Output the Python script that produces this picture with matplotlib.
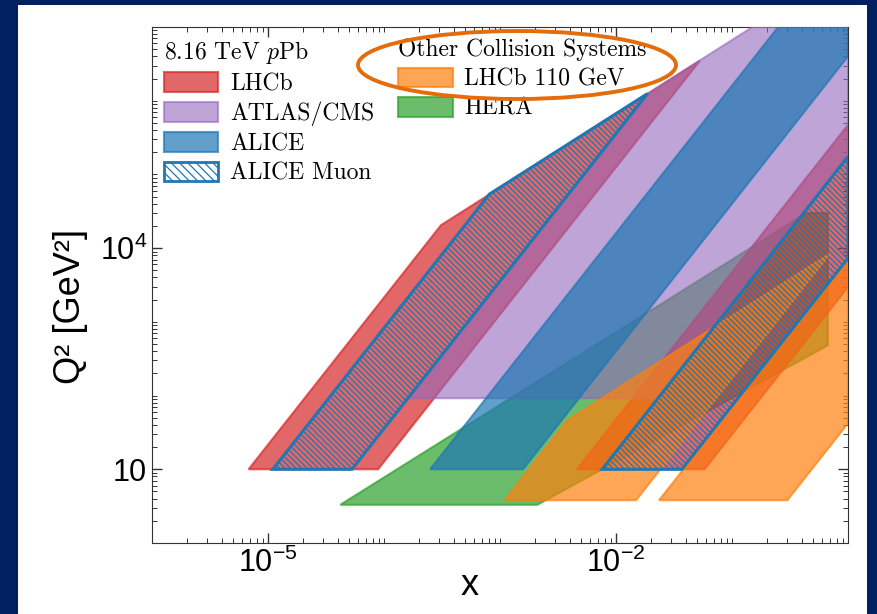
import matplotlib
matplotlib.use('Agg')
import matplotlib.pyplot as plt
from matplotlib.patches import Patch, Rectangle, Ellipse
from matplotlib.font_manager import FontProperties
from matplotlib.ticker import LogLocator, NullFormatter, FixedLocator, FixedFormatter

# kinematic regions, polygon corners as (x, Q^2)
lhcb_fwd_x = [6.8e-6, 8.9e-5, 5.3e-2, 3.1e-4]
lhcb_fwd_q2 = [10, 10, 3.5e6, 2.05e4]
lhcb_bwd_x = [4.6e-3, 5.8e-2, 1.0, 1.0]
lhcb_bwd_q2 = [10, 10, 2.97e3, 4.7e5]
atlas_x = [1.6e-4, 2.3e-2, 1.0, 1.0, 0.15, 1.8e-2]
atlas_q2 = [92, 92, 1.75e5, 1e7, 1e7, 1.2e6]
alice_x = [2.5e-4, 1.58e-3, 1.0, 1.0, 0.25]
alice_q2 = [10, 10, 4.0e6, 1e7, 1e7]
muon_fwd_x = [1.1e-5, 5.3e-5, 1.87e-2, 8.1e-4]
muon_fwd_q2 = [10, 10, 1.25e6, 5.4e4]
muon_bwd_x = [7.6e-3, 3.7e-2, 1.0, 1.0]
muon_bwd_q2 = [10, 10, 7.3e3, 1.75e5]
hera_x = [4.2e-5, 2.1e-3, 0.67, 0.67, 0.44]
hera_q2 = [3.3, 3.3, 480, 3.0e4, 3.0e4]
fixed1_x = [1.1e-3, 1.49e-2, 0.67, 0.67, 3.8e-3]
fixed1_q2 = [3.8, 3.8, 7.7e3, 8.1e3, 46]
fixed2_x = [2.35e-2, 0.30, 1.0, 1.0]
fixed2_q2 = [3.8, 3.8, 42, 6.9e3]

labels_ppb = ['LHCb', 'ATLAS/CMS', 'ALICE', 'ALICE Muon']
labels_other = ['LHCb 110 GeV', 'HERA']
xtick_vals = [1e-5, 1e-2]
xtick_labels = [r'$\mathregular{10^{-5}}$', r'$\mathregular{10^{-2}}$']
ytick_vals = [10, 1e4]
ytick_labels = ['10', r'$\mathregular{10^{4}}$']

plt.rcParams['font.family'] = ['Liberation Sans', 'DejaVu Sans']
plt.rcParams['mathtext.fontset'] = 'cm'
plt.rcParams['hatch.linewidth'] = 0.9

fig = plt.figure(figsize=(8.77, 6.14), dpi=100)
fig.patch.set_facecolor('#002060')
fig.add_artist(Rectangle((18 / 877, 0), 849 / 877, 609 / 614, transform=fig.transFigure,
                         facecolor='white', edgecolor='none', zorder=-10))

ax = fig.add_axes([152 / 877, 71 / 614, 696 / 877, 516 / 614])
ax.set_xscale('log')
ax.set_yscale('log')

ax.fill(hera_x, hera_q2, color='tab:green', alpha=0.7, lw=1.5, zorder=1)
ax.fill(lhcb_fwd_x, lhcb_fwd_q2, color='tab:red', alpha=0.7, lw=1.5, zorder=2)
ax.fill(lhcb_bwd_x, lhcb_bwd_q2, color='tab:red', alpha=0.7, lw=1.5, zorder=2)
ax.fill(atlas_x, atlas_q2, color='tab:purple', alpha=0.6, lw=1.5, zorder=3)
ax.fill(alice_x, alice_q2, color='tab:blue', alpha=0.7, lw=1.5, zorder=4)
ax.fill(fixed1_x, fixed1_q2, color='tab:orange', alpha=0.7, lw=1.5, zorder=5)
ax.fill(fixed2_x, fixed2_q2, color='tab:orange', alpha=0.7, lw=1.5, zorder=5)
for mx, mq in [(muon_fwd_x, muon_fwd_q2), (muon_bwd_x, muon_bwd_q2)]:
    ax.fill(mx, mq, facecolor='none', edgecolor='tab:blue', hatch=r'\\\\\\', lw=2.2, zorder=6)

ax.set_xlim(1e-6, 1)
ax.set_ylim(1, 1e7)

ax.xaxis.set_major_locator(FixedLocator(xtick_vals))
ax.xaxis.set_major_formatter(FixedFormatter(xtick_labels))
ax.yaxis.set_major_locator(FixedLocator(ytick_vals))
ax.yaxis.set_major_formatter(FixedFormatter(ytick_labels))
for axis in (ax.xaxis, ax.yaxis):
    axis.set_minor_locator(LogLocator(base=10, subs='all', numticks=100))
    axis.set_minor_formatter(NullFormatter())

ax.tick_params(which='both', direction='in', top=True, right=True, labelsize=22, color='#333333')
ax.tick_params(which='major', length=7, width=1)
ax.tick_params(which='minor', length=3.5, width=0.7)
for sp in ax.spines.values():
    sp.set_color('#333333')

ax.set_xlabel('x', fontsize=26)
ax.xaxis.set_label_coords(0.457, -0.048)
ax.set_ylabel('Q² [GeV²]', fontsize=26)
ax.yaxis.set_label_coords(-0.092, 0.459)

leg_font = FontProperties(family='cmr10', size=17)
h_ppb = [Patch(facecolor='tab:red', edgecolor='tab:red', alpha=0.7, lw=1.5),
         Patch(facecolor='tab:purple', edgecolor='tab:purple', alpha=0.6, lw=1.5),
         Patch(facecolor='tab:blue', edgecolor='tab:blue', alpha=0.7, lw=1.5),
         Patch(facecolor='none', edgecolor='tab:blue', hatch=r'\\\\', lw=2)]
h_other = [Patch(facecolor='tab:orange', edgecolor='tab:orange', alpha=0.7, lw=1.5),
           Patch(facecolor='tab:green', edgecolor='tab:green', alpha=0.7, lw=1.5)]

leg_kw = dict(loc='upper left', frameon=False, prop=leg_font, title_fontproperties=leg_font,
              alignment='left', handlelength=2.3, handleheight=0.9, labelspacing=0.27,
              handletextpad=0.5, borderaxespad=0, borderpad=0.5)
leg1 = ax.legend(h_ppb, labels_ppb, title='8.16 TeV $p$Pb', bbox_to_anchor=(0, 1), **leg_kw)
leg1.set_zorder(10)
ax.add_artist(leg1)
leg2 = ax.legend(h_other, labels_other, title='Other Collision Systems', bbox_to_anchor=(0.337, 1), **leg_kw)
leg2.set_zorder(10)

# hand-drawn highlight on the slide
fig.add_artist(Ellipse((517 / 877, 1 - 65 / 614), 318 / 877, 68 / 614, transform=fig.transFigure,
                       fill=False, edgecolor='#E46C0A', linewidth=2.8, zorder=20))

fig.savefig('out.png', dpi=100, facecolor=fig.get_facecolor())
